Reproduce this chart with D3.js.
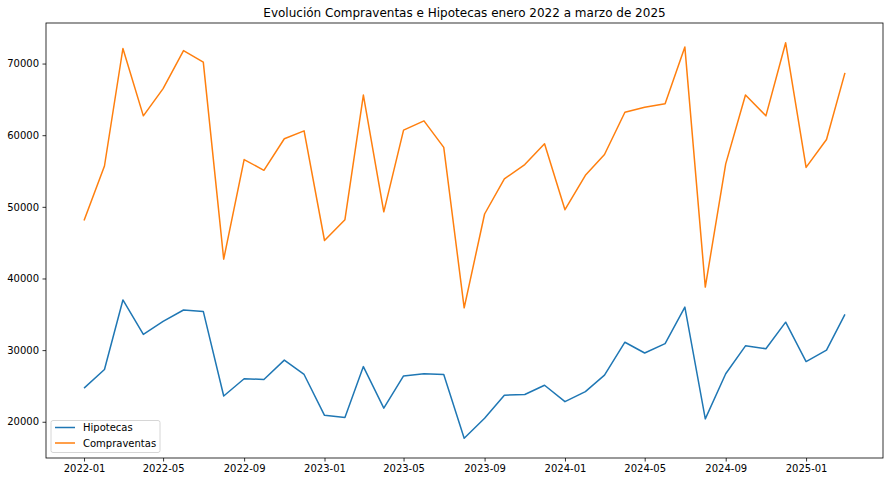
<!DOCTYPE html>
<html><head><meta charset="utf-8">
<script src="https://cdn.jsdelivr.net/npm/d3@7"></script>
<style>body{margin:0;background:#fff}svg{display:block}text{font-family:"DejaVu Sans",sans-serif}</style>
</head><body>
<script>
const months = ["2022-01","2022-02","2022-03","2022-04","2022-05","2022-06","2022-07","2022-08","2022-09","2022-10","2022-11","2022-12",
"2023-01","2023-02","2023-03","2023-04","2023-05","2023-06","2023-07","2023-08","2023-09","2023-10","2023-11","2023-12",
"2024-01","2024-02","2024-03","2024-04","2024-05","2024-06","2024-07","2024-08","2024-09","2024-10","2024-11","2024-12",
"2025-01","2025-02","2025-03"];
const hipotecas = [24700,27300,37000,32200,34000,35600,35400,23600,26000,25900,28600,26600,
20900,20600,27700,21900,26400,26700,26600,17700,20500,23700,23800,25100,
22800,24200,26500,31100,29600,30900,36000,20400,26700,30600,30200,33900,
28400,30000,35000];
const compraventas = [48100,55700,72100,62700,66500,71800,70200,42700,56600,55100,59500,60600,
45300,48200,65600,49300,60700,62000,58300,35900,49000,53900,55900,58800,
49600,54400,57300,63200,63900,64400,72300,38800,56000,65600,62700,72900,
55500,59400,68700];
const yTicks = [20000,30000,40000,50000,60000,70000];
const xTickLabels = ["2022-01","2022-05","2022-09","2023-01","2023-05","2023-09","2024-01","2024-05","2024-09","2025-01"];
const seriesNames = ["Hipotecas","Compraventas"];
const colors = ["#1f77b4","#ff7f0e"];
const title = "Evolución Compraventas e Hipotecas enero 2022 a marzo de 2025";

const W=890,H=482, m={l:46,r:7,t:23,b:24};
const iw=W-m.l-m.r, ih=H-m.t-m.b;
const parse=d3.timeParse("%Y-%m");
const dates=months.map(parse);
const svg=d3.select("body").append("svg").attr("width",W).attr("height",H);
const g=svg.append("g").attr("transform",`translate(${m.l},${m.t})`);

const allV=hipotecas.concat(compraventas);
const ymin=d3.min(allV), ymax=d3.max(allV), yr=ymax-ymin;
const y=d3.scaleLinear().domain([ymin-0.05*yr, ymax+0.05*yr]).range([ih,0]);
const t0=+dates[0], t1=+dates[dates.length-1], tr=t1-t0;
const x=d3.scaleTime().domain([new Date(t0-0.05*tr), new Date(t1+0.05*tr)]).range([0,iw]);

const xAxis=d3.axisBottom(x).tickValues(xTickLabels.map(parse)).tickFormat(d3.timeFormat("%Y-%m")).tickSize(3.5).tickPadding(3.5);
const yAxis=d3.axisLeft(y).tickValues(yTicks).tickFormat(d3.format("d")).tickSize(3.5).tickPadding(3.5);
const gx=g.append("g").attr("transform",`translate(0,${ih})`).call(xAxis);
const gy=g.append("g").call(yAxis);
[gx,gy].forEach(a=>{a.select(".domain").remove();a.selectAll("text").attr("font-size",10).attr("fill","#000").attr("font-family","DejaVu Sans");a.selectAll("line").attr("stroke","#000").attr("stroke-width",0.8);});

const line=d3.line().x((d,i)=>x(dates[i])).y(d=>y(d));
[hipotecas,compraventas].forEach((s,k)=>{
  g.append("path").datum(s).attr("d",line).attr("fill","none").attr("stroke",colors[k]).attr("stroke-width",1.5).attr("stroke-linejoin","round");
});
g.append("rect").attr("width",iw).attr("height",ih).attr("fill","none").attr("stroke","#000").attr("stroke-width",0.8);

svg.append("text").attr("x",m.l+iw/2).attr("y",m.t-6).attr("text-anchor","middle").attr("font-size",12).attr("fill","#000").text(title);

const lg=g.append("g").attr("transform",`translate(5,${ih-37.5})`);
lg.append("rect").attr("width",109).attr("height",32).attr("rx",2).attr("fill","#fff").attr("fill-opacity",0.8).attr("stroke","#ccc").attr("stroke-width",0.8);
seriesNames.forEach((n,k)=>{
  const yy=7+k*15.5;
  lg.append("line").attr("x1",4).attr("x2",24).attr("y1",yy).attr("y2",yy).attr("stroke",colors[k]).attr("stroke-width",1.5);
  lg.append("text").attr("x",32).attr("y",yy).attr("dy","0.35em").attr("font-size",10).attr("fill","#000").text(n);
});
</script>
</body></html>
